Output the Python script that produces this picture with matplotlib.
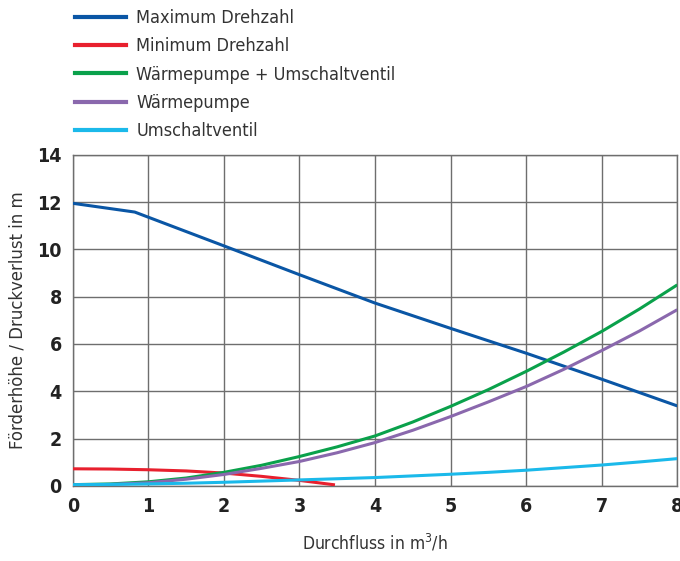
import matplotlib
matplotlib.use("Agg")
import matplotlib.pyplot as plt
from matplotlib.lines import Line2D

plt.rcParams['font.family'] = ['DejaVu Sans']
plt.rcParams['font.stretch'] = 'condensed'

x_max = [0, 0.82, 2, 3, 4, 5, 6, 7, 8]
y_max = [11.95, 11.58, 10.15, 8.93, 7.73, 6.66, 5.61, 4.51, 3.38]

x_min = [0, 0.5, 1, 1.5, 2, 2.5, 3, 3.47]
y_min = [0.72, 0.71, 0.68, 0.63, 0.54, 0.40, 0.23, 0.04]

x_half = [0, 0.5, 1, 1.5, 2, 2.5, 3, 3.5, 4, 4.5, 5, 5.5, 6, 6.5, 7, 7.5, 8]
y_wp_uv = [0.05, 0.08, 0.17, 0.33, 0.57, 0.87, 1.24, 1.65, 2.11, 2.70, 3.36, 4.07, 4.84, 5.66, 6.53, 7.48, 8.50]
y_wp = [0.03, 0.06, 0.13, 0.28, 0.48, 0.74, 1.03, 1.40, 1.83, 2.35, 2.93, 3.55, 4.20, 4.93, 5.72, 6.55, 7.45]
y_uv = [0.05, 0.06, 0.08, 0.11, 0.15, 0.20, 0.25, 0.30, 0.35, 0.42, 0.49, 0.57, 0.66, 0.77, 0.88, 1.01, 1.15]

labels = ["Maximum Drehzahl", "Minimum Drehzahl", "Wärmepumpe + Umschaltventil",
          "Wärmepumpe", "Umschaltventil"]
colors = ["#0a56a5", "#e8202e", "#0aa14b", "#8a68ad", "#1bb9ea"]

fig = plt.figure(figsize=(6.8, 5.61), dpi=100)
ax = fig.add_axes([0.107, 0.134, 0.889, 0.590])

series = [(x_max, y_max), (x_min, y_min), (x_half, y_wp_uv), (x_half, y_wp), (x_half, y_uv)]
for (xs, ys), c in zip(series, colors):
    ax.plot(xs, ys, color=c, lw=2.2, solid_capstyle='butt', zorder=3)

ax.set_xlim(0, 8)
ax.set_ylim(0, 14)
ax.set_xticks(range(0, 9))
ax.set_yticks(range(0, 15, 2))
ax.grid(True, color='#6e6e6e', lw=1.0)
for s in ax.spines.values():
    s.set_color('#6e6e6e')
    s.set_linewidth(1.0)
ax.tick_params(length=0, labelsize=14, colors='#222222', pad=8)
for t in ax.get_xticklabels() + ax.get_yticklabels():
    t.set_fontweight('bold')
ax.set_xlabel("Durchfluss in m$^3$/h", fontsize=12.5, color='#333333', labelpad=12)
ax.set_ylabel("Förderhöhe / Druckverlust in m", fontsize=13.2, color='#333333', labelpad=8)

handles = [Line2D([], [], color=c, lw=3) for c in colors]
fig.legend(handles, labels, loc='upper left', bbox_to_anchor=(75 / 680, 1 - 9 / 561),
           frameon=False, fontsize=13, handlelength=2.8, labelspacing=0.57,
           handletextpad=0.6, borderpad=0, borderaxespad=0, labelcolor='#333333')

fig.savefig("out.png", dpi=100)
